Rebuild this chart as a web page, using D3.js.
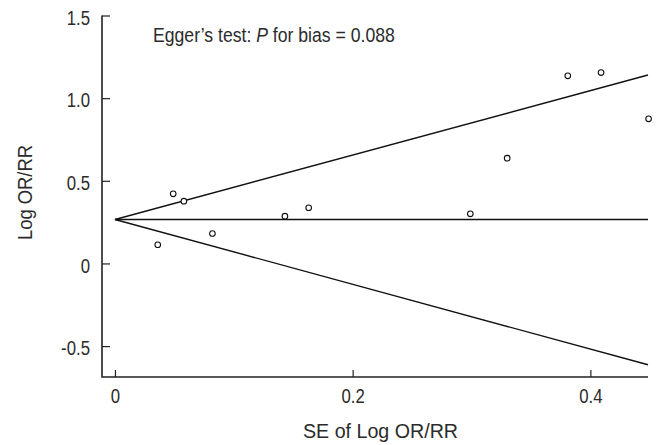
<!DOCTYPE html>
<html><head><meta charset="utf-8">
<script src="https://cdn.jsdelivr.net/npm/d3@7"></script>
<style>
body{margin:0;background:#fff;}
svg{display:block;}
text{font-family:"Liberation Sans",Arial,sans-serif;fill:#2b2b2b;}
</style></head>
<body><svg id="c" width="657" height="445"></svg>
<script>
// Studies: standard error and log OR/RR
const studySE = [0.036, 0.049, 0.058, 0.082, 0.143, 0.163, 0.299, 0.330, 0.381, 0.409, 0.449];
const studyLogOR = [0.113, 0.421, 0.377, 0.181, 0.286, 0.337, 0.300, 0.637, 1.135, 1.155, 0.875];
// Funnel (pooled estimate and pseudo 95% limits) at SE = 0 and SE = max
const funnelSE = [0, 0.4485];
const funnelCenter = [0.266, 0.266];
const funnelUpper = [0.266, 1.140];
const funnelLower = [0.266, -0.613];
const xTicks = [0, 0.2, 0.4];
const yTicks = [-0.5, 0, 0.5, 1.0, 1.5];
const yTickLabels = ["-0.5", "0", "0.5", "1.0", "1.5"];
const annotation = ["Egger\u2019s test:\u00a0", "P", "\u00a0for bias = 0.088"];

const svg = d3.select("#c");
const L = 102, R = 648, T = 15.5, B = 377;
const x = d3.scaleLinear().domain([-0.0109, 0.4485]).range([L, R]);
const y = d3.scaleLinear().domain([-0.687, 1.5]).range([B, T]);

const condense = (sel, k) => sel.each(function () {
  const len = this.getComputedTextLength();
  d3.select(this).attr("textLength", len * k).attr("lengthAdjust", "spacingAndGlyphs");
});

// axes
const xAxis = d3.axisBottom(x).tickValues(xTicks).tickSizeInner(-7).tickSizeOuter(0).tickPadding(12.5)
  .tickFormat(d => d === 0 ? "0" : d3.format(".1f")(d));
const gx = svg.append("g").attr("transform", `translate(0,${B})`).call(xAxis);
const yAxis = d3.axisLeft(y).tickValues(yTicks).tickSizeInner(-8).tickSizeOuter(0).tickPadding(12)
  .tickFormat((d, i) => yTickLabels[i]);
const gy = svg.append("g").attr("transform", `translate(${L},0)`).call(yAxis);
gy.selectAll("text").attr("dy", "0.45em");
[gx, gy].forEach(g => {
  g.select(".domain").remove();
  g.selectAll(".tick line").attr("stroke", "#222").attr("stroke-width", 1.2);
  g.selectAll("text").attr("font-family", null).style("font-size", "19.5px").attr("fill", "#2b2b2b");
  condense(g.selectAll("text"), 0.86);
});
// axis lines (L shape)
svg.append("path").attr("d", `M${L},${T}V${B}H${R}`).attr("fill", "none").attr("stroke", "#222").attr("stroke-width", 1.6);

// funnel lines
const line = d3.line().x(d => x(d[0])).y(d => y(d[1]));
[funnelCenter, funnelUpper, funnelLower].forEach(arr => {
  svg.append("path").datum(funnelSE.map((s, i) => [s, arr[i]]))
    .attr("d", line).attr("fill", "none").attr("stroke", "#111").attr("stroke-width", 1.4);
});

// points
svg.append("g").selectAll("circle").data(studySE.map((s, i) => [s, studyLogOR[i]])).join("circle")
  .attr("cx", d => x(d[0])).attr("cy", d => y(d[1])).attr("r", 2.8)
  .attr("fill", "#fff").attr("stroke", "#111").attr("stroke-width", 1.1);

// annotation (single text, horizontally condensed)
const ag = svg.append("g");
const t = ag.append("text").attr("x", 0).attr("y", 0).style("font-size", "20.5px");
t.append("tspan").text(annotation[0]);
t.append("tspan").text(annotation[1]).style("font-style", "italic");
t.append("tspan").text(annotation[2]);
const natural = t.node().getComputedTextLength();
ag.attr("transform", `translate(153,41.5) scale(${242 / natural},1)`);

// axis titles
svg.append("text").attr("x", 303).attr("y", 437.7).style("font-size", "20.5px")
  .attr("textLength", 155).attr("lengthAdjust", "spacingAndGlyphs").text("SE of Log OR/RR");
svg.append("text").attr("transform", "translate(31.7,192.5) rotate(-90)").attr("text-anchor", "middle").style("font-size", "20.5px")
  .attr("textLength", 95).attr("lengthAdjust", "spacingAndGlyphs").text("Log OR/RR");
</script></body></html>
